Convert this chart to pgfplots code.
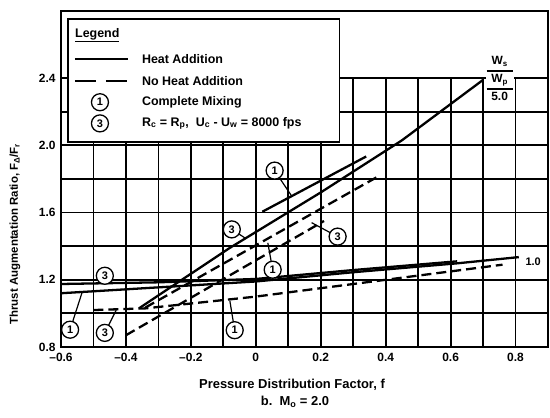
\documentclass[border=0pt]{standalone}
\usepackage{fontspec}
\setmainfont{Liberation Sans}
\usepackage{pgfplots}
\pgfplotsset{compat=1.18}

\tikzset{
  circ/.style={circle, draw, line width=1.3pt, fill=white, inner sep=0pt,
    minimum size=17bp, font=\bfseries\fontsize{11}{12}\selectfont},
  lead/.style={line width=1.2pt},
  heat/.style={line width=2.3pt},
  noheat/.style={line width=2.3pt, dash pattern=on 10bp off 5bp},
}

\begin{document}
\begin{tikzpicture}[font=\bfseries\fontsize{12.5}{14}\selectfont]
\begin{axis}[
  scale only axis, width=487bp, height=336bp,
  xmin=-0.6, xmax=0.9, ymin=0.8, ymax=2.8,
  xtick={-0.6,-0.4,-0.2,0,0.2,0.4,0.6,0.8},
  xticklabels={--0.6,--0.4,--0.2,0,0.2,0.4,0.6,0.8},
  ytick={0.8,1.2,1.6,2.0,2.4},
  yticklabels={0.8,1.2,1.6,2.0,2.4},
  axis line style={line width=1.8pt},
  major tick length=0pt,
  ticklabel style={font=\bfseries\fontsize{12}{14}\selectfont},
  xticklabel style={yshift=-3bp},
  yticklabel style={xshift=-2bp},
]
% grid as thin filled bars: every 0.1 in x up to 2.4, every 0.2 in y
\pgfplotsinvokeforeach{-0.5,-0.4,-0.3,-0.2,-0.1,0,0.1,0.2,0.3,0.4,0.5,0.6,0.7,0.8}{
  \fill[black] ([xshift=-0.9bp]axis cs:#1,0.8) rectangle ([xshift=0.9bp]axis cs:#1,2.4);
}
\pgfplotsinvokeforeach{1.0,1.2,1.4,1.6,1.8,2.0,2.2,2.4}{
  \fill[black] ([yshift=-0.9bp]axis cs:-0.6,#1) rectangle ([yshift=0.9bp]axis cs:0.9,#1);
}

% W_s/W_p = 5.0
\addplot[heat] coordinates {(-0.36,1.03) (-0.08,1.39) (0.2,1.72) (0.45,2.03) (0.70,2.39)};
\addplot[heat] coordinates {(0.02,1.605) (0.34,1.934)};
\addplot[noheat] coordinates {(-0.34,1.035) (0.372,1.81)};
\addplot[noheat] coordinates {(-0.40,0.87) (0.21,1.55)};

% W_s/W_p = 1.0
\addplot[heat] coordinates {(-0.6,1.175) (-0.3,1.185) (0.0,1.205) (0.3,1.258) (0.62,1.31)};
\addplot[heat] coordinates {(-0.6,1.12) (-0.3,1.155) (0.0,1.19) (0.3,1.245) (0.62,1.298) (0.81,1.335)};
\addplot[noheat] coordinates {(-0.50,1.02) (-0.34,1.03) (0.0,1.10) (0.40,1.20) (0.76,1.29)};

% curve labels
\draw[lead] (axis cs:-0.572,0.903) -- (axis cs:-0.535,1.125);
\node[circ] at (axis cs:-0.572,0.903) {1};
\draw[lead] (axis cs:-0.465,1.224) -- (axis cs:-0.44,1.18);
\node[circ] at (axis cs:-0.465,1.224) {3};
\draw[lead] (axis cs:-0.465,0.884) -- (axis cs:-0.43,1.02);
\node[circ] at (axis cs:-0.465,0.884) {3};
\draw[lead] (axis cs:-0.074,1.50) -- (axis cs:-0.03,1.445);
\node[circ] at (axis cs:-0.074,1.50) {3};
\draw[lead] (axis cs:0.052,1.26) -- (axis cs:0.037,1.42);
\node[circ] at (axis cs:0.052,1.26) {1};
\draw[lead] (axis cs:0.058,1.85) -- (axis cs:0.11,1.70);
\node[circ] at (axis cs:0.058,1.85) {1};
\draw[lead] (axis cs:0.252,1.457) -- (axis cs:0.172,1.54);
\node[circ] at (axis cs:0.252,1.457) {3};
\draw[lead] (axis cs:-0.065,0.90) -- (axis cs:-0.08,1.075);
\node[circ] at (axis cs:-0.065,0.90) {1};

\node[anchor=west, font=\bfseries\fontsize{11}{12}\selectfont] at (axis cs:0.82,1.31) {1.0};
\node[fill=white, inner sep=1pt, align=center, font=\bfseries\fontsize{12}{13}\selectfont] at (axis cs:0.751,2.40)
  {W\textsubscript{s}\\[-5pt]\rule{26bp}{1.8bp}\\[-3pt]W\textsubscript{p}\\[-5pt]\rule{26bp}{1.8bp}\\[-3pt]5.0};

% legend box
\draw[fill=white, line width=1.8pt] (axis cs:-0.578,2.018) rectangle (axis cs:0.258,2.752);
\node[anchor=west, inner sep=0pt] at (axis cs:-0.557,2.657) {\underline{Legend}};
\draw[line width=2.3pt] (axis cs:-0.557,2.513) -- (axis cs:-0.394,2.513);
\node[anchor=west, inner sep=0pt] at (axis cs:-0.351,2.513) {Heat Addition};
\draw[line width=2.3pt, dash pattern=on 21bp off 10bp] (axis cs:-0.557,2.382) -- (axis cs:-0.394,2.382);
\node[anchor=west, inner sep=0pt] at (axis cs:-0.351,2.382) {No Heat Addition};
\node[circ] at (axis cs:-0.48,2.257) {1};
\node[anchor=west, inner sep=0pt] at (axis cs:-0.351,2.257) {Complete Mixing};
\node[circ] at (axis cs:-0.48,2.131) {3};
\node[anchor=west, inner sep=0pt] at (axis cs:-0.351,2.131)
  {R\textsubscript{c} = R\textsubscript{p}, \ U\textsubscript{c} - U\textsubscript{w} = 8000 fps};

\draw[line width=1.8pt] (rel axis cs:0,0) rectangle (rel axis cs:1,1);
\end{axis}
% axis labels, placed in bp from the lower-left corner of the axis
\node[rotate=90, font=\bfseries\fontsize{11.5}{13}\selectfont] at (-46bp,113bp) {Thrust Augmentation Ratio, F\textsubscript{Δ}/F\textsubscript{r}};
\node[font=\bfseries\fontsize{13}{15}\selectfont] at (231bp,-38bp) {Pressure Distribution Factor, f};
\node[font=\bfseries\fontsize{13}{15}\selectfont] at (234bp,-55bp) {b.\ \ M\textsubscript{o} = 2.0};
\pgfresetboundingbox
\path[use as bounding box] (-61bp,-71bp) rectangle (489bp,347bp);
\end{tikzpicture}
\end{document}
